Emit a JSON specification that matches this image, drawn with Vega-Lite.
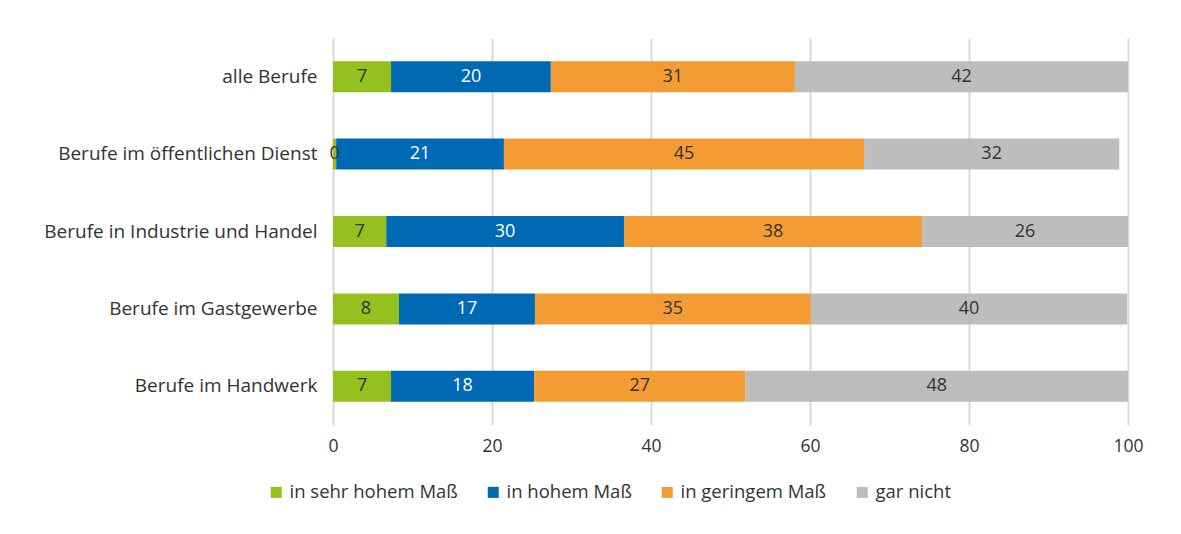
{
  "$schema": "https://vega.github.io/schema/vega-lite/v6.json",
  "width": 795,
  "height": 387,
  "autosize": {"type": "none"},
  "padding": {"left": 333, "top": 38, "right": 53, "bottom": 109},
  "background": "white",
  "config": {
    "font": "Open Sans",
    "view": {"stroke": null},
    "axis": {"labelFont": "Open Sans", "labelColor": "#333333"}
  },
  "data": {
    "values": [
      {"beruf": "alle Berufe", "cat": "in sehr hohem Maß", "rank": 1, "v": 7.3},
      {"beruf": "alle Berufe", "cat": "in hohem Maß", "rank": 2, "v": 20.1},
      {"beruf": "alle Berufe", "cat": "in geringem Maß", "rank": 3, "v": 30.7},
      {"beruf": "alle Berufe", "cat": "gar nicht", "rank": 4, "v": 41.9},
      {"beruf": "Berufe im öffentlichen Dienst", "cat": "in sehr hohem Maß", "rank": 1, "v": 0.4},
      {"beruf": "Berufe im öffentlichen Dienst", "cat": "in hohem Maß", "rank": 2, "v": 21.1},
      {"beruf": "Berufe im öffentlichen Dienst", "cat": "in geringem Maß", "rank": 3, "v": 45.3},
      {"beruf": "Berufe im öffentlichen Dienst", "cat": "gar nicht", "rank": 4, "v": 32.1},
      {"beruf": "Berufe in Industrie und Handel", "cat": "in sehr hohem Maß", "rank": 1, "v": 6.7},
      {"beruf": "Berufe in Industrie und Handel", "cat": "in hohem Maß", "rank": 2, "v": 29.9},
      {"beruf": "Berufe in Industrie und Handel", "cat": "in geringem Maß", "rank": 3, "v": 37.5},
      {"beruf": "Berufe in Industrie und Handel", "cat": "gar nicht", "rank": 4, "v": 25.9},
      {"beruf": "Berufe im Gastgewerbe", "cat": "in sehr hohem Maß", "rank": 1, "v": 8.3},
      {"beruf": "Berufe im Gastgewerbe", "cat": "in hohem Maß", "rank": 2, "v": 17.1},
      {"beruf": "Berufe im Gastgewerbe", "cat": "in geringem Maß", "rank": 3, "v": 34.7},
      {"beruf": "Berufe im Gastgewerbe", "cat": "gar nicht", "rank": 4, "v": 39.8},
      {"beruf": "Berufe im Handwerk", "cat": "in sehr hohem Maß", "rank": 1, "v": 7.3},
      {"beruf": "Berufe im Handwerk", "cat": "in hohem Maß", "rank": 2, "v": 18.0},
      {"beruf": "Berufe im Handwerk", "cat": "in geringem Maß", "rank": 3, "v": 26.6},
      {"beruf": "Berufe im Handwerk", "cat": "gar nicht", "rank": 4, "v": 48.1}
    ]
  },
  "encoding": {
    "y": {
      "field": "beruf", "type": "nominal", "sort": null, "title": null,
      "scale": {"paddingInner": 0.6, "paddingOuter": 0.3},
      "axis": {"domain": false, "ticks": false, "labelPadding": 16, "labelLimit": 400, "labelFontSize": 19}
    },
    "x": {
      "field": "v", "type": "quantitative", "stack": "zero", "title": null,
      "scale": {"domain": [0, 100], "nice": false},
      "axis": {"values": [0, 20, 40, 60, 80, 100], "domain": false, "ticks": false, "labelPadding": 12,
               "gridColor": "#d9d9d9", "gridWidth": 2, "labelFlush": false, "labelFontSize": 17.5}
    },
    "order": {"field": "rank", "type": "quantitative"}
  },
  "layer": [
    {
      "mark": {"type": "bar"},
      "encoding": {
        "color": {
          "field": "cat", "type": "nominal", "title": null,
          "scale": {
            "domain": ["in sehr hohem Maß", "in hohem Maß", "in geringem Maß", "gar nicht"],
            "range": ["#95c11f", "#0069b4", "#f39c33", "#bdbdbd"]
          },
          "legend": {
            "orient": "none", "direction": "horizontal", "legendX": -66, "legendY": 445,
            "symbolType": "square", "symbolSize": 121, "symbolStrokeWidth": 0,
            "labelFontSize": 18.5, "labelColor": "#333333", "labelFont": "Open Sans",
            "labelLimit": 400, "columnPadding": 26, "labelOffset": 4
          }
        }
      }
    },
    {
      "mark": {"type": "text", "fontSize": 18, "font": "Open Sans", "baseline": "middle", "align": "center"},
      "encoding": {
        "x": {"field": "v", "type": "quantitative", "stack": "zero", "bandPosition": 0.5},
        "text": {"field": "v", "type": "quantitative", "format": ".0f"},
        "color": {
          "condition": {"test": "datum.cat === 'in hohem Maß'", "value": "white"},
          "value": "#333333"
        }
      }
    }
  ]
}
